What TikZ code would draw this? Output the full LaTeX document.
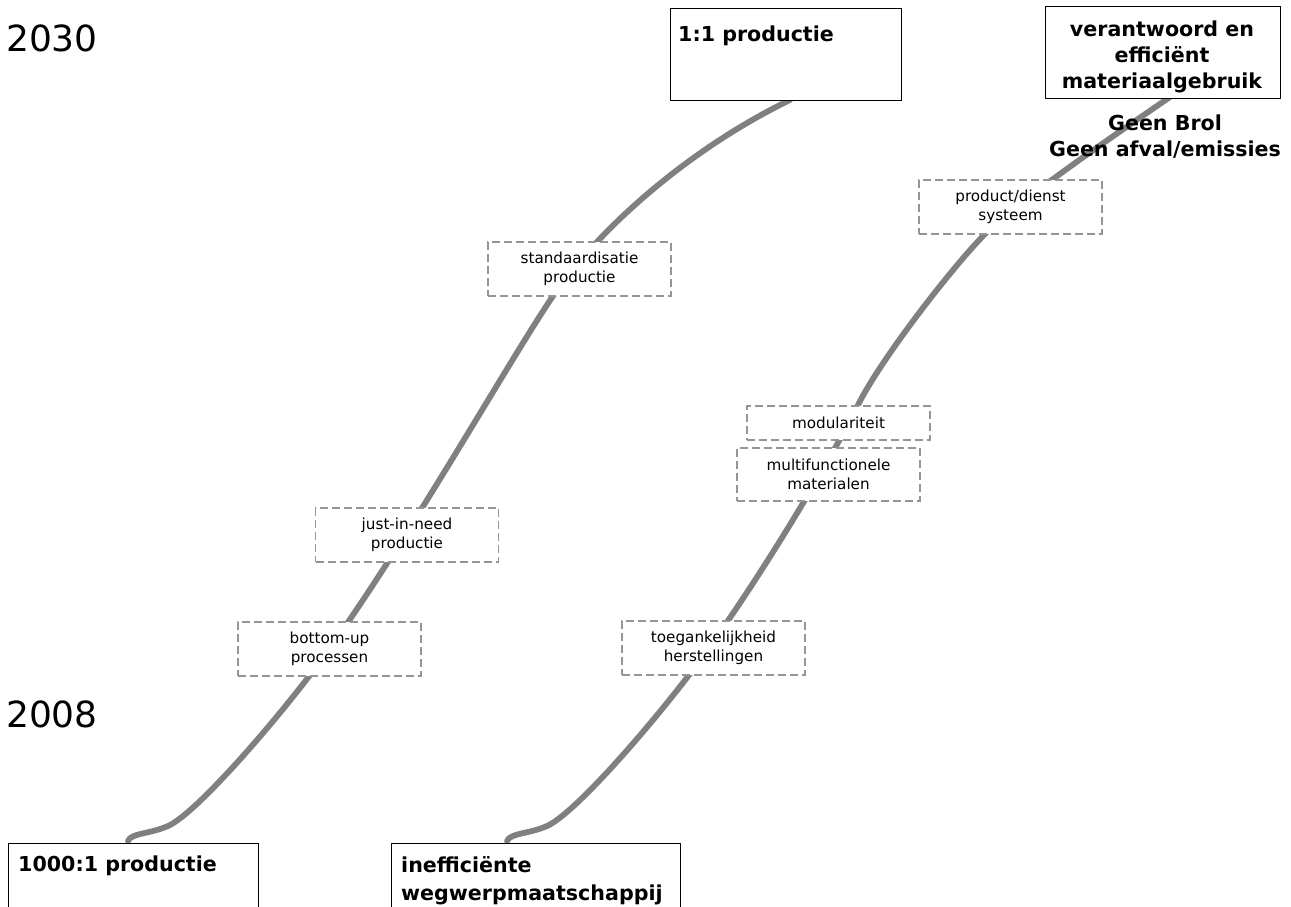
\documentclass[tikz,border=0pt]{standalone}
\usepackage{fontspec}
\setmainfont{DejaVu Sans}
\definecolor{curvegray}{HTML}{808080}
\definecolor{dashgray}{HTML}{959595}
\begin{document}
\begin{tikzpicture}[x=1pt,y=-1pt,
  curve/.style={draw=curvegray, line width=5.8pt, line cap=round, line join=round},
  bigbox/.style={draw=black, line width=1.1pt, fill=white, anchor=north west, inner sep=0pt},
  btext/.style={font=\fontsize{20.6}{26}\selectfont\bfseries, inner sep=0pt},
  dbox/.style={draw=dashgray, dash pattern=on 8pt off 4pt, line width=1.2pt, fill=white,
    minimum width=183pt, minimum height=54pt, inner sep=0pt, align=center,
    font=\fontsize{15.2}{19}\selectfont},
  year/.style={font=\fontsize{36}{40}\selectfont, inner sep=0pt, anchor=base west}]
\clip (0,0) rectangle (1291,907);
\fill[white] (0,0) rectangle (1291,907);

% years
\node[year] (y2030) at (6,52) {2030};
\node[year] (y2008) at (6,727) {2008};

% curve end points
\coordinate (l0) at (128,841);
\coordinate (l1) at (790,100);
\coordinate (r0) at (507,841);
\coordinate (r1) at (1170,97);

% curves (drawn behind the boxes)
\draw[curve] (l0) .. controls (131,833) and (150,834) .. (168,826)
  .. controls (195,814) and (268,730) .. (310,675)
  .. controls (394,565) and (508,362) .. (553,296)
  .. controls (598,230) and (687,150) .. (l1);
\draw[curve] (r0) .. controls (510,833) and (529,834) .. (547,826)
  .. controls (574,814) and (647,730) .. (689,675)
  .. controls (752,592) and (828,465) .. (858,405)
  .. controls (882,357) and (955,264) .. (985,234)
  .. controls (1020,199) and (1125,128) .. (r1);

% dashed step boxes
\node[dbox] (prod)  at (1010.5,207) {product/dienst\\systeem};
\node[dbox] (stand) at (579.5,269)  {standaardisatie\\productie};
\node[dbox, minimum height=34pt] (modul) at (838.5,423) {modulariteit};
\node[dbox, minimum height=53pt] (multi) at (828.5,474.5) {multifunctionele\\materialen};
\node[dbox] (jin)   at (407,535)    {just-in-need\\productie};
\node[dbox] (bu)    at (329.5,649)  {bottom-up\\processen};
\node[dbox] (toeg)  at (713.5,648)  {toegankelijkheid\\herstellingen};

% solid boxes
\node[bigbox, minimum width=250pt, minimum height=100pt] (b1000) at (8,843) {};
\node[bigbox, minimum width=289pt, minimum height=100pt] (bineff) at (391,843) {};
\node[bigbox, minimum width=231pt, minimum height=92pt] (b11) at (670,8) {};
\node[bigbox, minimum width=235pt, minimum height=92pt] (bver) at (1045,6) {};

% box texts
\node[btext, anchor=north west] (t1000) at (18,856) {1000:1 productie};
\node[btext, anchor=north west, align=left, font=\fontsize{20.6}{28}\selectfont\bfseries] (tineff) at (401,856) {inefficiënte\\wegwerpmaatschappij};
\node[btext, anchor=north west] (t11) at (678,26) {1:1 productie};
\node[btext, anchor=north, align=center] (tver) at (1162,21) {verantwoord en\\efficiënt\\materiaalgebruik};
\node[btext, anchor=north, align=center] (tgeen) at (1165,115) {Geen Brol\\Geen afval/emissies};
\end{tikzpicture}
\end{document}
